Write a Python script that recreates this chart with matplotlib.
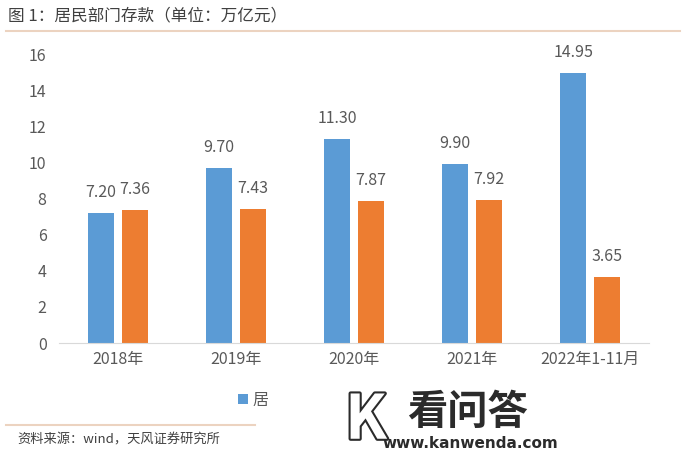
import numpy as np
import matplotlib
matplotlib.use("Agg")
import matplotlib.pyplot as plt
import matplotlib.patheffects as pe
from matplotlib.lines import Line2D

plt.rcParams['font.family'] = ['Noto Sans CJK SC', 'DejaVu Sans']

# data
categories = ["2018年", "2019年", "2020年", "2021年", "2022年1-11月"]
series_a = [7.20, 9.70, 11.30, 9.90, 14.95]
series_b = [7.36, 7.43, 7.87, 7.92, 3.65]
legend_label = "居"
title = "图 1：居民部门存款（单位：万亿元）"
source = "资料来源：wind，天风证券研究所"

BLUE = "#5b9bd5"
ORANGE = "#ed7d31"
GRAY = "#595959"
RULE = "#ecd3c0"

W, H = 689, 458
fig = plt.figure(figsize=(W / 100, H / 100), dpi=100)
ax = fig.add_axes([59 / W, 1 - 343 / H, 590 / W, (343 - 54.2) / H])

x = np.arange(len(categories))
bw = 0.22
off = 0.143
bars_a = ax.bar(x - off, series_a, bw, color=BLUE, label=legend_label)
bars_b = ax.bar(x + off, series_b, bw, color=ORANGE)

for bars, vals in [(bars_a, series_a), (bars_b, series_b)]:
    for b, v in zip(bars, vals):
        ax.annotate(f"{v:.2f}", (b.get_x() + b.get_width() / 2, v),
                    xytext=(0, 8.5), textcoords="offset points",
                    ha="center", va="bottom", fontsize=11.5, color=GRAY)

ax.set_xlim(-0.5, len(categories) - 0.5)
ax.set_ylim(0, 16)
ax.set_yticks(np.arange(0, 17, 2))
ax.set_xticks(x)
ax.set_xticklabels(categories)
ax.tick_params(axis="both", length=0, colors=GRAY, labelsize=11.5)
ax.tick_params(axis="x", pad=6)
ax.tick_params(axis="y", pad=9)
for s in ["top", "right", "left"]:
    ax.spines[s].set_visible(False)
ax.spines["bottom"].set_color("#d9d9d9")

# legend (second entry hidden under the watermark box)
fig.legend(handles=[bars_a], labels=[legend_label], loc="center left",
           bbox_to_anchor=(224 / W, 1 - 400 / H), frameon=False,
           handlelength=0.6, handleheight=0.6, handletextpad=0.3,
           fontsize=11.5, labelcolor=GRAY)

# header / footer
fig.text(8 / W, 1 - 16 / H, title, fontsize=12, color="#404040", va="center")
fig.add_artist(Line2D([6 / W, 680 / W], [1 - 31 / H] * 2, color=RULE, lw=1.5))
fig.add_artist(Line2D([6 / W, 255 / W], [1 - 425 / H] * 2, color=RULE, lw=1.5))
fig.text(17 / W, 1 - 440 / H, source, fontsize=9.5, color="#404040", va="center")

# watermark
fig.text(366 / W, 1 - 421 / H, "K", fontsize=44, fontweight="bold", color="white",
         ha="center", va="center",
         path_effects=[pe.withStroke(linewidth=3, foreground="#2b2b2b")])
fig.text(467 / W, 1 - 412 / H, "看问答", fontsize=29, fontweight="bold",
         color="#2b2b2b", ha="center", va="center")
fig.text(470 / W, 1 - 443 / H, "www.kanwenda.com", fontsize=11, fontweight="bold",
         color="#2b2b2b", ha="center", va="center", family="DejaVu Sans")

fig.savefig("out.png", dpi=100)
